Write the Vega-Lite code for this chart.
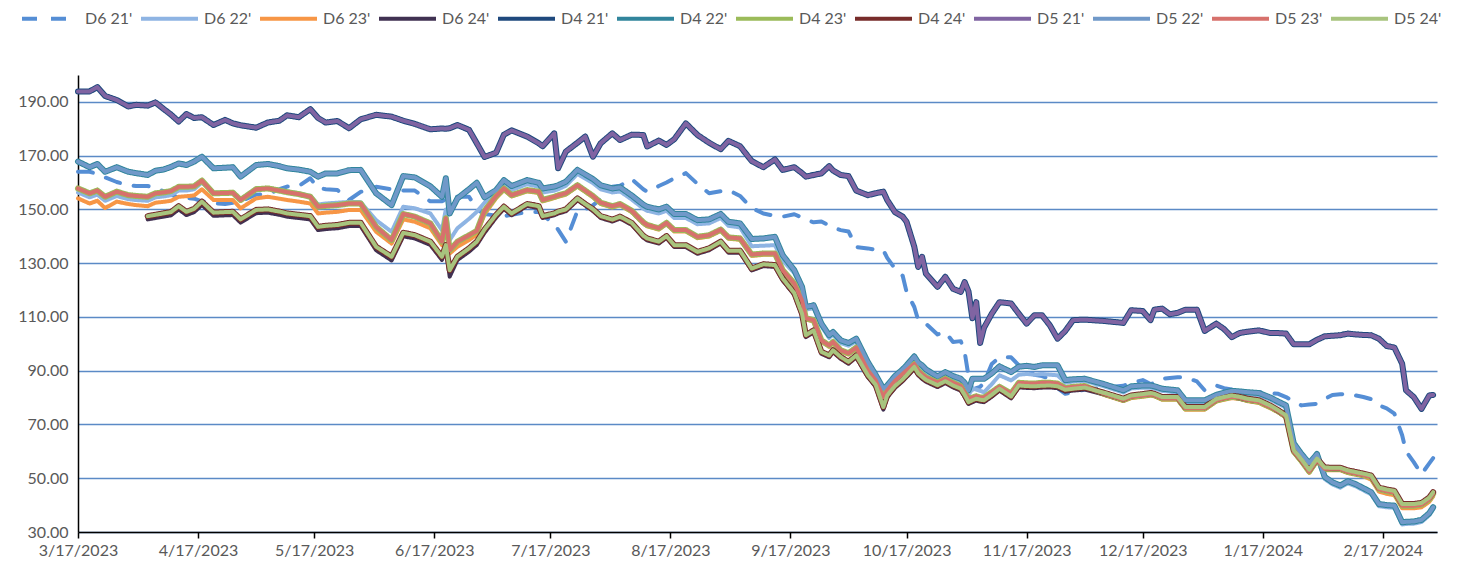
{
"$schema": "https://vega.github.io/schema/vega-lite/v6.json",
"width": 1359, "height": 457,
"autosize": {"type": "none"},
"padding": {"left": 78, "top": 75, "right": 36, "bottom": 37},
"background": "white",
"config": {"view": {"stroke": null}, "font": "Lato"},
"data": {"values": [
{"d":"2023-03-17","A21":164,"A22":156.3,"A23":154.1,"P21":193.9,"P22":167.8,"P23":157.8},
{"d":"2023-03-20","A21":164,"A22":154.5,"A23":152.2,"P21":193.9,"P22":165.7,"P23":156},
{"d":"2023-03-22","A21":163.2,"A22":155.5,"A23":153.2,"P21":195.5,"P22":166.9,"P23":157},
{"d":"2023-03-24","A21":161.9,"A22":153.2,"A23":150.5,"P21":192.2,"P22":164,"P23":154.7},
{"d":"2023-03-27","A21":160.2,"A22":155,"A23":152.9,"P21":190.7,"P22":165.7,"P23":156.6},
{"d":"2023-03-30","A21":159,"A22":153.8,"A23":152,"P21":188.3,"P22":164,"P23":155.3},
{"d":"2023-04-01","A21":158.7,"A22":153.5,"A23":151.6,"P21":188.9,"P22":163.5,"P23":155},
{"d":"2023-04-04","A21":158.7,"A22":153.2,"A23":151.2,"A24":146.3,"P21":188.6,"P22":162.8,"P23":154.7,"P24":147.5},
{"d":"2023-04-06","A21":158,"A22":154.5,"A23":152.5,"A24":146.8,"P21":189.8,"P22":164.4,"P23":156,"P24":148},
{"d":"2023-04-08","A21":156.8,"A22":154.8,"A23":152.8,"A24":147.3,"P21":187.5,"P22":164.8,"P23":156.3,"P24":148.5},
{"d":"2023-04-10","A21":155.5,"A22":155.3,"A23":153.2,"A24":147.8,"P21":185.3,"P22":165.8,"P23":156.8,"P24":149},
{"d":"2023-04-12","A21":154.5,"A22":157,"A23":154.7,"A24":150,"P21":182.7,"P22":167.1,"P23":158.4,"P24":151.2},
{"d":"2023-04-14","A21":154.2,"A22":157,"A23":154.9,"A24":147.9,"P21":185.5,"P22":166.5,"P23":158.4,"P24":149.1},
{"d":"2023-04-16","A21":154,"A22":157.5,"A23":155.2,"A24":149,"P21":184,"P22":167.8,"P23":158.6,"P24":150.2},
{"d":"2023-04-18","A21":153,"A22":160,"A23":157.5,"A24":151.7,"P21":184.3,"P22":169.6,"P23":160.7,"P24":152.9},
{"d":"2023-04-21","A21":152.3,"A22":156.2,"A23":153.5,"A24":147.6,"P21":181.4,"P22":165.3,"P23":156,"P24":148.8},
{"d":"2023-04-24","A21":152,"A22":156.4,"A23":153.5,"A24":147.8,"P21":183.3,"P22":165.5,"P23":156.1,"P24":149},
{"d":"2023-04-26","A21":152.5,"A22":156.5,"A23":153.5,"A24":147.9,"P21":182,"P22":165.7,"P23":156.2,"P24":149.1},
{"d":"2023-04-28","A21":153,"A22":153.8,"A23":150.4,"A24":145.1,"P21":181.3,"P22":162.2,"P23":153.5,"P24":146.3},
{"d":"2023-05-02","A21":155.5,"A22":157.8,"A23":154.1,"A24":148.6,"P21":180.4,"P22":166.5,"P23":157.5,"P24":149.8},
{"d":"2023-05-05","A21":155.7,"A22":158,"A23":154.7,"A24":148.8,"P21":182.3,"P22":166.9,"P23":157.8,"P24":150},
{"d":"2023-05-08","A21":157.5,"A22":157.3,"A23":154,"A24":148,"P21":183,"P22":166.1,"P23":157,"P24":149.2},
{"d":"2023-05-10","A21":158.5,"A22":156.7,"A23":153.5,"A24":147.3,"P21":185,"P22":165.3,"P23":156.4,"P24":148.5},
{"d":"2023-05-13","A21":158.7,"A22":156,"A23":152.9,"A24":146.8,"P21":184.3,"P22":164.8,"P23":155.7,"P24":148},
{"d":"2023-05-16","A21":161.6,"A22":155,"A23":152.2,"A24":146.3,"P21":187.3,"P22":164,"P23":154.7,"P24":147.5},
{"d":"2023-05-18","A21":158,"A22":151.8,"A23":148.5,"A24":142.3,"P21":184,"P22":162.2,"P23":151,"P24":143.5},
{"d":"2023-05-20","A21":157.5,"A22":152.2,"A23":148.8,"A24":142.7,"P21":182.3,"P22":163.4,"P23":151.3,"P24":143.9},
{"d":"2023-05-23","A21":157.2,"A22":152.5,"A23":149.1,"A24":143,"P21":182.9,"P22":163.4,"P23":151.6,"P24":144.2},
{"d":"2023-05-26","A21":153.5,"A22":152.8,"A23":149.8,"A24":143.8,"P21":180.2,"P22":164.6,"P23":152.2,"P24":145},
{"d":"2023-05-29","A21":156.5,"A22":152.7,"A23":149.8,"A24":143.8,"P21":183.5,"P22":164.7,"P23":152.2,"P24":145},
{"d":"2023-06-02","A21":158.4,"A22":146,"A23":141.7,"A24":134.8,"P21":185.2,"P22":156,"P23":143.5,"P24":136.1},
{"d":"2023-06-06","A21":157.5,"A22":141.7,"A23":137.3,"A24":131,"P21":184.5,"P22":151.6,"P23":138.6,"P24":132.4},
{"d":"2023-06-09","A21":157,"A22":151,"A23":146.3,"A24":140,"P21":183,"P22":162.4,"P23":148.3,"P24":141.3},
{"d":"2023-06-12","A21":157,"A22":150.4,"A23":145.4,"A24":139.2,"P21":181.8,"P22":161.9,"P23":147.3,"P24":140.4},
{"d":"2023-06-16","A21":153,"A22":148.5,"A23":143,"A24":136.8,"P21":179.8,"P22":158.6,"P23":144.8,"P24":138},
{"d":"2023-06-19","A21":153,"A22":142.3,"A23":136.7,"A24":131.2,"P21":180.1,"P22":154.7,"P23":138,"P24":132.4},
{"d":"2023-06-20","A21":153.8,"A22":150,"A23":144.5,"A24":135.5,"P21":180,"P22":161.6,"P23":146.7,"P24":136.7},
{"d":"2023-06-21","A21":154.2,"A22":138.6,"A23":133.6,"A24":125,"P21":180.2,"P22":148.5,"P23":134.8,"P24":127.4},
{"d":"2023-06-23","A21":154.7,"A22":143,"A23":136.1,"A24":131.2,"P21":181.4,"P22":154.1,"P23":138,"P24":132.4},
{"d":"2023-06-26","A21":154.7,"A22":146.5,"A23":138.6,"A24":134.3,"P21":179.6,"P22":157.5,"P23":140.4,"P24":135.5},
{"d":"2023-06-28","A21":150,"A22":149.1,"A23":140.6,"A24":136.8,"P21":174.6,"P22":159.9,"P23":142,"P24":138},
{"d":"2023-06-30","A21":148.3,"A22":152.5,"A23":148.2,"A24":141.3,"P21":169.5,"P22":154.5,"P23":149.5,"P24":142.5},
{"d":"2023-07-03","A21":147.7,"A22":155.8,"A23":154.2,"A24":147,"P21":171.1,"P22":157.2,"P23":155,"P24":148},
{"d":"2023-07-05","A21":147.5,"A22":159.2,"A23":157.2,"A24":150.2,"P21":177.8,"P22":160.9,"P23":157.8,"P24":151},
{"d":"2023-07-07","A21":148,"A22":157.2,"A23":154.8,"A24":147.8,"P21":179.4,"P22":158.7,"P23":155.3,"P24":148.5},
{"d":"2023-07-11","A21":149,"A22":159.4,"A23":156.7,"A24":151.3,"P21":177.1,"P22":160.9,"P23":157.2,"P24":152},
{"d":"2023-07-14","A21":149,"A22":158.4,"A23":156.1,"A24":150.5,"P21":174.6,"P22":159.9,"P23":156.6,"P24":151.2},
{"d":"2023-07-15","A21":148,"A22":156.3,"A23":153,"A24":146.8,"P21":173.5,"P22":157.8,"P23":153.5,"P24":147.5},
{"d":"2023-07-18","A21":144.5,"A22":157,"A23":154.2,"A24":147.8,"P21":178.3,"P22":158.5,"P23":154.7,"P24":148.5},
{"d":"2023-07-19","A21":142.5,"A22":157.5,"A23":154.7,"A24":148.5,"P21":165.3,"P22":159,"P23":155.2,"P24":149.2},
{"d":"2023-07-21","A21":138,"A22":158.8,"A23":155.5,"A24":149.3,"P21":171.5,"P22":160.3,"P23":156,"P24":150},
{"d":"2023-07-24","A21":149.5,"A22":163.2,"A23":158.5,"A24":153.4,"P21":174.8,"P22":164.7,"P23":159,"P24":154.1},
{"d":"2023-07-26","A21":150,"A22":161.5,"A23":156.5,"A24":151.5,"P21":177.1,"P22":163,"P23":157,"P24":152},
{"d":"2023-07-28","A21":151.5,"A22":159.8,"A23":154.5,"A24":149.4,"P21":169.6,"P22":161.3,"P23":155,"P24":150.1},
{"d":"2023-07-30","A21":154,"A22":157.5,"A23":152,"A24":146.8,"P21":174.6,"P22":159,"P23":152.5,"P24":147.5},
{"d":"2023-08-02","A21":158.4,"A22":156.3,"A23":150.7,"A24":145.5,"P21":178.3,"P22":157.8,"P23":151.2,"P24":146.2},
{"d":"2023-08-04","A21":158.8,"A22":156.7,"A23":151.5,"A24":146.6,"P21":175.8,"P22":158.2,"P23":152,"P24":147.3},
{"d":"2023-08-07","A21":161.3,"A22":153.7,"A23":149,"A24":144.3,"P21":177.8,"P22":155.2,"P23":149.5,"P24":145},
{"d":"2023-08-10","A21":157.5,"A22":150.3,"A23":144.7,"A24":139.5,"P21":177.7,"P22":151.8,"P23":145.2,"P24":140.2},
{"d":"2023-08-11","A21":156.6,"A22":149.5,"A23":143.7,"A24":138.5,"P21":173.4,"P22":151,"P23":144.2,"P24":139.2},
{"d":"2023-08-14","A21":158.7,"A22":148.5,"A23":142.5,"A24":137.3,"P21":175.6,"P22":150,"P23":143,"P24":138},
{"d":"2023-08-16","A21":160,"A22":149.5,"A23":144.5,"A24":139.4,"P21":174,"P22":151,"P23":145,"P24":140.1},
{"d":"2023-08-18","A21":161.6,"A22":146.8,"A23":141.8,"A24":136,"P21":176.1,"P22":148.3,"P23":142.3,"P24":136.7},
{"d":"2023-08-21","A21":163.5,"A22":146.8,"A23":141.8,"A24":136,"P21":182,"P22":148.3,"P23":142.3,"P24":136.7},
{"d":"2023-08-24","A21":159.5,"A22":144.5,"A23":139.3,"A24":133.5,"P21":177.7,"P22":146,"P23":139.8,"P24":134.2},
{"d":"2023-08-27","A21":156,"A22":144.8,"A23":139.9,"A24":134.8,"P21":174.8,"P22":146.3,"P23":140.4,"P24":135.5},
{"d":"2023-08-30","A21":156.8,"A22":146.8,"A23":142,"A24":137.3,"P21":172.4,"P22":148.3,"P23":142.5,"P24":138},
{"d":"2023-09-01","A21":157.2,"A22":143.9,"A23":139.1,"A24":133.9,"P21":175.5,"P22":145.4,"P23":139.6,"P24":134.6},
{"d":"2023-09-04","A21":155,"A22":143.3,"A23":138.7,"A24":133.9,"P21":173.5,"P22":144.8,"P23":139.2,"P24":134.6},
{"d":"2023-09-07","A21":150.5,"A22":136.3,"A23":132.7,"A24":127.3,"P21":168,"P22":139,"P23":133.2,"P24":128},
{"d":"2023-09-10","A21":148.5,"A22":136.5,"A23":133.1,"A24":128.9,"P21":165.7,"P22":139.2,"P23":133.6,"P24":129.6},
{"d":"2023-09-13","A21":147.6,"A22":136.7,"A23":133.1,"A24":128.6,"P21":168.6,"P22":139.8,"P23":133.6,"P24":129.3},
{"d":"2023-09-15","A21":147.3,"A22":131,"A23":126.9,"A24":123.6,"P21":164.7,"P22":133,"P23":127.4,"P24":124.3},
{"d":"2023-09-18","A21":148.2,"A22":126.3,"A23":121.9,"A24":118.2,"P21":165.7,"P22":127.4,"P23":122.4,"P24":118.9},
{"d":"2023-09-20","A21":147,"A22":120.2,"A23":115.7,"A24":110.5,"P21":163.5,"P22":121.2,"P23":116.2,"P24":111.2},
{"d":"2023-09-21","A21":146.2,"A22":112.7,"A23":109,"A24":102.5,"P21":162.2,"P22":113.7,"P23":109.5,"P24":103.2},
{"d":"2023-09-23","A21":145.2,"A22":113.3,"A23":108.3,"A24":104.3,"P21":162.8,"P22":114.3,"P23":108.8,"P24":105},
{"d":"2023-09-25","A21":145.5,"A22":106.5,"A23":100.8,"A24":96.3,"P21":163.4,"P22":107.5,"P23":101.3,"P24":97},
{"d":"2023-09-27","A21":144,"A22":102.2,"A23":98.9,"A24":95,"P21":166.1,"P22":103.2,"P23":99.4,"P24":95.7},
{"d":"2023-09-28","A21":143.2,"A22":103.4,"A23":100.2,"A24":96.9,"P21":164.5,"P22":104.4,"P23":100.7,"P24":97.6},
{"d":"2023-09-30","A21":142.3,"A22":100.3,"A23":97.1,"A24":94.4,"P21":162.8,"P22":101.3,"P23":97.6,"P24":95.1},
{"d":"2023-10-02","A21":141.8,"A22":99.3,"A23":96,"A24":92.6,"P21":162.4,"P22":100.3,"P23":96.5,"P24":93.3},
{"d":"2023-10-04","A21":136,"A22":100.9,"A23":98.1,"A24":95,"P21":157,"P22":101.9,"P23":98.6,"P24":95.7},
{"d":"2023-10-07","A21":135.5,"A22":92.2,"A23":89.6,"A24":87.6,"P21":155.3,"P22":93.2,"P23":90.1,"P24":88.3},
{"d":"2023-10-09","A21":135,"A22":87.7,"A23":86,"A24":84.1,"P21":156,"P22":88.5,"P23":86.5,"P24":84.8},
{"d":"2023-10-11","A21":134.8,"A22":82.3,"A23":79.7,"A24":75.5,"P21":156.6,"P22":83.3,"P23":80.2,"P24":76.5},
{"d":"2023-10-12","A21":132,"A22":83.5,"A23":82.2,"A24":80,"P21":153.5,"P22":84.5,"P23":82.7,"P24":80.8},
{"d":"2023-10-14","A21":128,"A22":87,"A23":85.7,"A24":83.6,"P21":149,"P22":88,"P23":86.2,"P24":84.3},
{"d":"2023-10-16","A21":125.3,"A22":89.5,"A23":88.3,"A24":86.1,"P21":147.3,"P22":90.5,"P23":88.8,"P24":86.8},
{"d":"2023-10-17","A21":119.3,"A22":91,"A23":89.6,"A24":87.6,"P21":145.4,"P22":92,"P23":90.1,"P24":88.3},
{"d":"2023-10-19","A21":113.7,"A22":94.3,"A23":92,"A24":90.7,"P21":136.1,"P22":95.3,"P23":92.5,"P24":91.4},
{"d":"2023-10-20","A21":108.8,"A22":92,"A23":89.5,"A24":88.3,"P21":128.6,"P22":93,"P23":90,"P24":89},
{"d":"2023-10-21","A21":108,"A22":91,"A23":88.2,"A24":87,"P21":132.4,"P22":92,"P23":88.7,"P24":87.7},
{"d":"2023-10-22","A21":107.5,"A22":89.5,"A23":87,"A24":85.9,"P21":126.1,"P22":90.5,"P23":87.5,"P24":86.6},
{"d":"2023-10-25","A21":103.5,"A22":86.8,"A23":85.1,"A24":83.9,"P21":121.2,"P22":87.8,"P23":85.6,"P24":84.6},
{"d":"2023-10-27","A21":104.4,"A22":88.5,"A23":86.5,"A24":85.4,"P21":124.9,"P22":89.5,"P23":87,"P24":86.1},
{"d":"2023-10-29","A21":100.7,"A22":86.5,"A23":85,"A24":83.8,"P21":120.5,"P22":88,"P23":85.5,"P24":84.5},
{"d":"2023-10-31","A21":101,"A22":85.5,"A23":83.8,"A24":82.6,"P21":119.3,"P22":87,"P23":84.3,"P24":83.3},
{"d":"2023-11-01","A21":97,"A22":84,"A23":81.5,"A24":80.3,"P21":123,"P22":85.5,"P23":82,"P24":81},
{"d":"2023-11-02","A21":88,"A22":81,"A23":79,"A24":77.6,"P21":119.5,"P22":82.7,"P23":79.5,"P24":78.3},
{"d":"2023-11-03","A21":83,"A22":83.3,"A23":79.5,"A24":78.3,"P21":109.5,"P22":87,"P23":80,"P24":79},
{"d":"2023-11-04","A21":83.5,"A22":83,"A23":80,"A24":78.9,"P21":115.5,"P22":87,"P23":80.5,"P24":79.6},
{"d":"2023-11-05","A21":84,"A22":82.5,"A23":79.5,"A24":78.5,"P21":100.3,"P22":87,"P23":80,"P24":79.2},
{"d":"2023-11-06","A21":85.5,"A22":82,"A23":79.5,"A24":78.3,"P21":106,"P22":87,"P23":80,"P24":79},
{"d":"2023-11-08","A21":92.5,"A22":85,"A23":81.5,"A24":80.3,"P21":111.2,"P22":89,"P23":82,"P24":81},
{"d":"2023-11-10","A21":95,"A22":88.3,"A23":83.5,"A24":82.6,"P21":115.5,"P22":91.6,"P23":84,"P24":83.3},
{"d":"2023-11-13","A21":95,"A22":86.4,"A23":81,"A24":79.7,"P21":115,"P22":89.5,"P23":81.5,"P24":80.4},
{"d":"2023-11-15","A21":92,"A22":88.5,"A23":85,"A24":83.8,"P21":111.2,"P22":91.5,"P23":85.5,"P24":84.5},
{"d":"2023-11-17","A21":90,"A22":88.8,"A23":84.8,"A24":83.6,"P21":107.5,"P22":91.8,"P23":85.3,"P24":84.3},
{"d":"2023-11-19","A21":88.5,"A22":88.5,"A23":84.7,"A24":83.5,"P21":110.6,"P22":91.4,"P23":85.2,"P24":84.2},
{"d":"2023-11-21","A21":88,"A22":88.8,"A23":85,"A24":83.7,"P21":110.6,"P22":92,"P23":85.5,"P24":84.4},
{"d":"2023-11-23","A21":87,"A22":88.5,"A23":85,"A24":83.8,"P21":106.9,"P22":92,"P23":85.5,"P24":84.5},
{"d":"2023-11-25","A21":83.5,"A22":88.3,"A23":84.7,"A24":83.5,"P21":101.9,"P22":92,"P23":85.2,"P24":84.2},
{"d":"2023-11-27","A21":81.4,"A22":85.5,"A23":83,"A24":82.2,"P21":104.8,"P22":86.5,"P23":83.5,"P24":82.9},
{"d":"2023-11-29","A21":82,"A22":86,"A23":83.5,"A24":82.6,"P21":108.8,"P22":86.8,"P23":84,"P24":83.3},
{"d":"2023-12-02","A21":83,"A22":86.2,"A23":83.8,"A24":83,"P21":109,"P22":87,"P23":84.3,"P24":83.7},
{"d":"2023-12-07","A21":83.7,"A22":84.2,"A23":81,"A24":81.1,"P21":108.5,"P22":85,"P23":81.5,"P24":81.8},
{"d":"2023-12-12","A21":84.4,"A22":81.9,"A23":78.7,"A24":78.9,"P21":107.8,"P22":82.7,"P23":79.2,"P24":79.6},
{"d":"2023-12-14","A21":85.5,"A22":83.4,"A23":79.8,"A24":80.1,"P21":112.5,"P22":84.2,"P23":80.3,"P24":80.8},
{"d":"2023-12-17","A21":86.5,"A22":83.7,"A23":80.3,"A24":80.6,"P21":112.2,"P22":84.5,"P23":80.8,"P24":81.3},
{"d":"2023-12-19","A21":85,"A22":83.7,"A23":80.7,"A24":81,"P21":108.8,"P22":84.5,"P23":81.2,"P24":81.7},
{"d":"2023-12-20","A21":85.5,"A22":83.4,"A23":80.5,"A24":80.7,"P21":112.7,"P22":84.2,"P23":81,"P24":81.4},
{"d":"2023-12-22","A21":87,"A22":82.5,"A23":79.2,"A24":79.5,"P21":113.1,"P22":83.3,"P23":79.7,"P24":80.2},
{"d":"2023-12-24","A21":87.3,"A22":82.2,"A23":79.2,"A24":79.5,"P21":111,"P22":83,"P23":79.7,"P24":80.2},
{"d":"2023-12-26","A21":87.6,"A22":81.9,"A23":79.2,"A24":79.5,"P21":111.5,"P22":82.7,"P23":79.7,"P24":80.2},
{"d":"2023-12-28","A21":87.6,"A22":78.2,"A23":75.5,"A24":75.8,"P21":112.7,"P22":79,"P23":76,"P24":76.5},
{"d":"2023-12-31","A21":86,"A22":78.2,"A23":75.5,"A24":75.8,"P21":112.7,"P22":79,"P23":76,"P24":76.5},
{"d":"2024-01-02","A21":82.7,"A22":78.2,"A23":75.5,"A24":75.8,"P21":104.8,"P22":79,"P23":76,"P24":76.5},
{"d":"2024-01-05","A21":84.5,"A22":80.2,"A23":78.5,"A24":78.8,"P21":107.5,"P22":81,"P23":79,"P24":79.5},
{"d":"2024-01-07","A21":83.5,"A22":81,"A23":79.2,"A24":79.5,"P21":105.5,"P22":81.8,"P23":79.7,"P24":80.2},
{"d":"2024-01-09","A21":83,"A22":81.7,"A23":79.8,"A24":80.1,"P21":102.5,"P22":82.5,"P23":80.3,"P24":80.8},
{"d":"2024-01-11","A21":82.5,"A22":81.5,"A23":79.5,"A24":79.6,"P21":104,"P22":82.3,"P23":80,"P24":80.3},
{"d":"2024-01-13","A21":82.2,"A22":81.2,"A23":78.7,"A24":78.9,"P21":104.5,"P22":82,"P23":79.2,"P24":79.6},
{"d":"2024-01-16","A21":82,"A22":80.9,"A23":78,"A24":78.3,"P21":105,"P22":81.7,"P23":78.5,"P24":79},
{"d":"2024-01-19","A21":81.6,"A22":79.2,"A23":76,"A24":76.3,"P21":104,"P22":80,"P23":76.5,"P24":77},
{"d":"2024-01-21","A21":81.4,"A22":77.7,"A23":74.5,"A24":74.6,"P21":104,"P22":78.5,"P23":75,"P24":75.3},
{"d":"2024-01-23","A21":80.2,"A22":76.3,"A23":72.5,"A24":72.7,"P21":103.8,"P22":77.1,"P23":73,"P24":73.4},
{"d":"2024-01-25","A21":78.5,"A22":62.2,"A23":59.5,"A24":59.8,"P21":99.8,"P22":63,"P23":60,"P24":60.5},
{"d":"2024-01-27","A21":77.1,"A22":58.2,"A23":56,"A24":56.3,"P21":99.8,"P22":59,"P23":56.5,"P24":57},
{"d":"2024-01-29","A21":77.4,"A22":54.8,"A23":52,"A24":52.5,"P21":99.8,"P22":55.6,"P23":52.5,"P24":53.2},
{"d":"2024-01-31","A21":77.7,"A22":58.2,"A23":56.3,"A24":56.6,"P21":101.5,"P22":59,"P23":56.8,"P24":57.3},
{"d":"2024-02-02","A21":79.5,"A22":49.7,"A23":53,"A24":53.3,"P21":102.8,"P22":50.5,"P23":53.5,"P24":54},
{"d":"2024-02-04","A21":81,"A22":47.7,"A23":53,"A24":53.2,"P21":103,"P22":48.5,"P23":53.5,"P24":53.9},
{"d":"2024-02-06","A21":81.2,"A22":46.5,"A23":53,"A24":53.2,"P21":103.2,"P22":47.3,"P23":53.5,"P24":53.9},
{"d":"2024-02-08","A21":81.4,"A22":48.1,"A23":51.9,"A24":52.2,"P21":103.8,"P22":48.9,"P23":52.4,"P24":52.9},
{"d":"2024-02-10","A21":80.8,"A22":47,"A23":51.3,"A24":51.6,"P21":103.5,"P22":47.8,"P23":51.8,"P24":52.3},
{"d":"2024-02-12","A21":80.2,"A22":45.5,"A23":50.7,"A24":51,"P21":103.3,"P22":46.3,"P23":51.2,"P24":51.7},
{"d":"2024-02-14","A21":79.4,"A22":44,"A23":49.5,"A24":50.3,"P21":103.2,"P22":44.8,"P23":50.5,"P24":51},
{"d":"2024-02-16","A21":77.1,"A22":39.6,"A23":45,"A24":45.8,"P21":101.9,"P22":40.4,"P23":46,"P24":46.5},
{"d":"2024-02-18","A21":76,"A22":39.2,"A23":44.2,"A24":45.1,"P21":99.2,"P22":40,"P23":45.2,"P24":45.8},
{"d":"2024-02-20","A21":74,"A22":39,"A23":43.7,"A24":44.6,"P21":98.6,"P22":39.8,"P23":44.7,"P24":45.3},
{"d":"2024-02-22","A21":66,"A22":32.8,"A23":38.8,"A24":39.7,"P21":92.6,"P22":33.6,"P23":39.8,"P24":40.4},
{"d":"2024-02-23","A21":60,"A22":33,"A23":38.8,"A24":39.7,"P21":82.7,"P22":33.8,"P23":39.8,"P24":40.4},
{"d":"2024-02-25","A21":56,"A22":33.1,"A23":38.8,"A24":39.7,"P21":80.2,"P22":33.9,"P23":39.8,"P24":40.4},
{"d":"2024-02-27","A21":51.5,"A22":33.7,"A23":39.2,"A24":40.1,"P21":75.8,"P22":34.5,"P23":40.2,"P24":40.8},
{"d":"2024-02-29","A21":55.5,"A22":36.2,"A23":41.2,"A24":42.1,"P21":80.8,"P22":37,"P23":42.2,"P24":42.8},
{"d":"2024-03-01","A21":57.5,"A22":38.4,"A23":43.2,"A24":44.1,"P21":81,"P22":39.2,"P23":44.2,"P24":44.8}
]},
"encoding": {
  "x": {"field": "d", "type": "temporal",
    "scale": {"type": "utc", "nice": false, "domain": [{"year": 2023, "month": 3, "date": 17, "utc": true}, {"year": 2024, "month": 3, "date": 2, "utc": true}]},
    "axis": {"title": null, "grid": false, "format": "%-m/%-d/%Y", "labelFontSize": 16, "labelColor": "#595959", "labelPadding": 4, "labelFlush": false, "labelOverlap": false,
      "tickColor": "#000000", "tickSize": 6, "tickWidth": 1.5, "domainColor": "#000000", "domainWidth": 1.5,
      "values": [{"year": 2023, "month": 3, "date": 17, "utc": true}, {"year": 2023, "month": 4, "date": 17, "utc": true}, {"year": 2023, "month": 5, "date": 17, "utc": true}, {"year": 2023, "month": 6, "date": 17, "utc": true}, {"year": 2023, "month": 7, "date": 17, "utc": true}, {"year": 2023, "month": 8, "date": 17, "utc": true}, {"year": 2023, "month": 9, "date": 17, "utc": true}, {"year": 2023, "month": 10, "date": 17, "utc": true}, {"year": 2023, "month": 11, "date": 17, "utc": true}, {"year": 2023, "month": 12, "date": 17, "utc": true}, {"year": 2024, "month": 1, "date": 17, "utc": true}, {"year": 2024, "month": 2, "date": 17, "utc": true}]}},
  "y": {"field": "v", "type": "quantitative",
    "scale": {"domain": [30, 200], "nice": false, "zero": false},
    "axis": {"title": null, "values": [30, 50, 70, 90, 110, 130, 150, 170, 190], "format": ".2f", "grid": true, "gridColor": "#5B8AC6", "gridWidth": 1.3,
      "ticks": false, "domainColor": "#000000", "domainWidth": 1.5, "labelFontSize": 16, "labelColor": "#595959", "labelPadding": 10}},
  "color": {"field": "s", "type": "nominal",
    "scale": {"domain": ["D6 21'", "D6 22'", "D6 23'", "D6 24'", "D4 21'", "D4 22'", "D4 23'", "D4 24'", "D5 21'", "D5 22'", "D5 23'", "D5 24'"],
      "range": ["#558ED5", "#8EB4E3", "#F79646", "#403152", "#1F497D", "#31859C", "#9BBB59", "#772C2A", "#8064A2", "#7099C9", "#D7716C", "#A8C47E"]},
    "legend": {"title": null, "orient": "none", "legendX": -58, "legendY": -87, "direction": "horizontal", "columns": 12, "symbolType": "stroke", "symbolSize": 3249, "symbolStrokeWidth": 4, "labelFontSize": 16, "labelColor": "#595959", "columnPadding": 0, "labelOffset": 4, "padding": 0}},
  "strokeDash": {"field": "s", "type": "nominal",
    "scale": {"domain": ["D6 21'", "D6 22'", "D6 23'", "D6 24'", "D4 21'", "D4 22'", "D4 23'", "D4 24'", "D5 21'", "D5 22'", "D5 23'", "D5 24'"],
      "range": [[15, 14], [1, 0], [1, 0], [1, 0], [1, 0], [1, 0], [1, 0], [1, 0], [1, 0], [1, 0], [1, 0], [1, 0]]},
    "legend": {"title": null, "orient": "none", "legendX": -58, "legendY": -87, "direction": "horizontal", "columns": 12, "symbolType": "stroke", "symbolSize": 3249, "symbolStrokeWidth": 4, "labelFontSize": 16, "labelColor": "#595959", "columnPadding": 0, "labelOffset": 4, "padding": 0}}
},
"layer": [
  {"transform": [{"fold": ["A21", "A22", "A23", "A24"], "as": ["k", "v"]},
     {"lookup": "k", "from": {"data": {"values": [{"k": "A21", "s": "D6 21'"}, {"k": "A22", "s": "D6 22'"}, {"k": "A23", "s": "D6 23'"}, {"k": "A24", "s": "D6 24'"}]}, "key": "k", "fields": ["s"]}}],
   "mark": {"type": "line", "strokeWidth": 4, "strokeCap": "round", "strokeJoin": "round", "invalid": "filter"}},
  {"transform": [{"fold": ["P21", "P22", "P23", "P24"], "as": ["k", "v"]},
     {"lookup": "k", "from": {"data": {"values": [{"k": "P21", "s": "D4 21'"}, {"k": "P22", "s": "D4 22'"}, {"k": "P23", "s": "D4 23'"}, {"k": "P24", "s": "D4 24'"}]}, "key": "k", "fields": ["s"]}}],
   "mark": {"type": "line", "strokeWidth": 6, "strokeCap": "round", "strokeJoin": "round", "invalid": "filter"}},
  {"transform": [{"fold": ["P21", "P22", "P23", "P24"], "as": ["k", "v"]},
     {"lookup": "k", "from": {"data": {"values": [{"k": "P21", "s": "D5 21'"}, {"k": "P22", "s": "D5 22'"}, {"k": "P23", "s": "D5 23'"}, {"k": "P24", "s": "D5 24'"}]}, "key": "k", "fields": ["s"]}}],
   "mark": {"type": "line", "strokeWidth": 4, "strokeCap": "round", "strokeJoin": "round", "invalid": "filter"}}
]
}
